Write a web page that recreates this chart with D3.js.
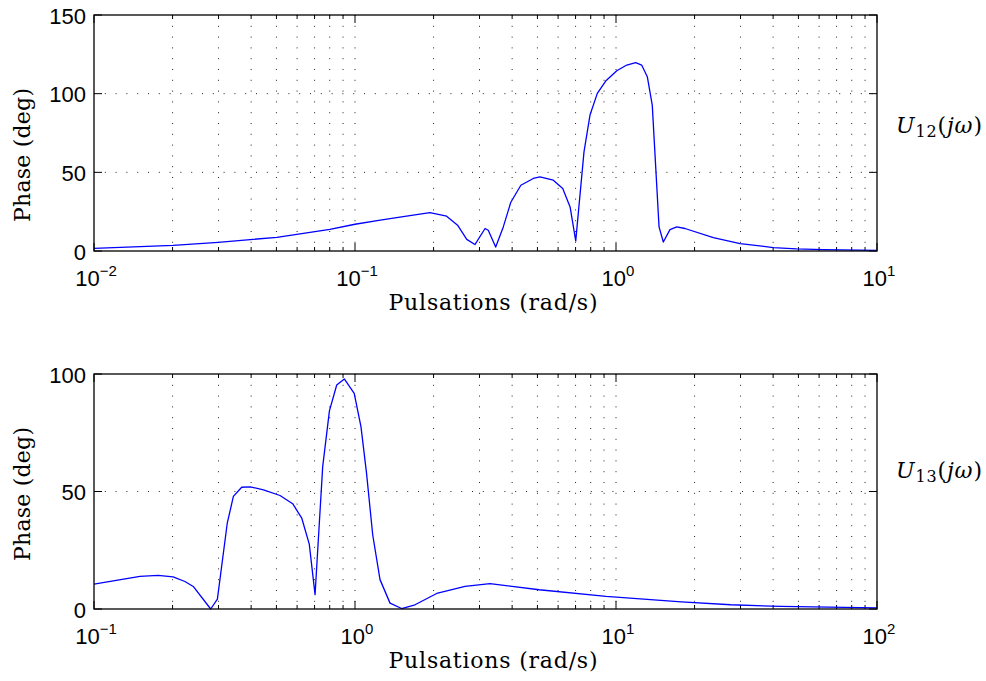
<!DOCTYPE html>
<html lang="en">
<head>
  <meta charset="UTF-8" />
  <title>Phase of U12 and U13</title>
  <script src="https://d3js.org/d3.v7.min.js"></script>
  <style>
    body {
      margin: 0;
      background: #fff;
    }
    svg {
      display: block;
    }
    .tick-label {
      font-family: "Liberation Sans", Arial, sans-serif;
      font-size: 22px;
      fill: #000;
    }
    .axis-title {
      font-family: "DejaVu Serif", serif;
      font-size: 22px;
      fill: #000;
    }
  </style>
</head>
<body>
<svg width="986" height="681"></svg>

<script>
  // U12 phase (top panel)
  const omega12 = [0.01, 0.0201, 0.0299, 0.0502, 0.0801, 0.1, 0.125, 0.1486, 0.1936, 0.2244, 0.2472, 0.268, 0.288, 0.315, 0.324,
    0.346, 0.370, 0.395, 0.432, 0.482, 0.511, 0.575, 0.625, 0.667, 0.701, 0.754, 0.795, 0.848, 0.913, 1.007,
    1.10, 1.19, 1.254, 1.318, 1.377, 1.462, 1.518, 1.61, 1.709, 1.838, 2.36, 2.99, 4.0, 4.92, 6.21, 10];
  const phase12 = [1.7, 3.6, 5.5, 8.7, 13.8, 17.0, 19.6, 21.5, 24.4, 22.1, 16.4, 7.4, 4.1, 14.3, 13.2,
    2.5, 15.3, 30.8, 41.8, 46.1, 47.1, 45.0, 39.7, 28.0, 6.4, 63.0, 86.4, 100.2, 108.0, 114.6,
    118.2, 119.7, 118.2, 110.8, 92.7, 15.3, 5.7, 13.6, 15.3, 14.3, 8.5, 4.7, 2.2, 1.3, 0.9, 0.4];

  // U13 phase (bottom panel)
  const omega13 = [0.1, 0.150, 0.176, 0.201, 0.223, 0.240, 0.280, 0.297, 0.324, 0.342, 0.368, 0.396, 0.446, 0.516, 0.577,
    0.625, 0.668, 0.703, 0.752, 0.798, 0.851, 0.910, 0.993, 1.054, 1.107, 1.169, 1.247, 1.362, 1.509, 1.698,
    2.056, 2.64, 3.29, 5.08, 9.16, 17.8, 27.5, 42.8, 100];
  const phase13 = [10.6, 13.9, 14.3, 13.7, 11.7, 9.6, 0, 4.2, 36.5, 47.9, 51.8, 52.0, 50.7, 48.3, 44.8,
    38.7, 27.6, 6.1, 60.6, 84.3, 95.3, 97.9, 91.8, 77.6, 57.8, 31.6, 12.5, 2.5, 0.2, 1.8,
    6.6, 9.6, 10.8, 8.2, 5.4, 3.0, 1.8, 1.1, 0.5];

  // tick labels
  const xExp12 = [-2, -1, 0, 1];
  const yTicks12 = [0, 50, 100, 150];
  const xExp13 = [-1, 0, 1, 2];
  const yTicks13 = [0, 50, 100];

  const xTitle = "Pulsations (rad/s)";
  const yTitle = "Phase (deg)";

  const svg = d3.select("svg");
  const left = 94, right = 877;

  function drawPanel(p) {
    const g = svg.append("g");
    const x = d3.scaleLog().domain([Math.pow(10, p.xExp[0]), Math.pow(10, p.xExp[p.xExp.length - 1])]).range([left, right]);
    const y = d3.scaleLinear().domain([0, p.yTicks[p.yTicks.length - 1]]).range([p.bottom, p.top]);

    // minor x values (2..9 per decade)
    const minor = [];
    for (let e = p.xExp[0]; e < p.xExp[p.xExp.length - 1]; e++) {
      for (let k = 2; k <= 9; k++) minor.push(k * Math.pow(10, e));
    }
    const majors = p.xExp.map(e => Math.pow(10, e));

    // dotted grid
    g.selectAll(".vgrid")
      .data(minor.concat(majors.slice(1, -1)))
      .enter().append("line")
      .attr("x1", d => x(d)).attr("x2", d => x(d))
      .attr("y1", p.top).attr("y2", p.bottom)
      .attr("stroke", "#222").attr("stroke-width", 1)
      .attr("stroke-dasharray", "1,9.8");
    g.selectAll(".hgrid")
      .data(p.yTicks.slice(1, -1))
      .enter().append("line")
      .attr("x1", left).attr("x2", right)
      .attr("y1", d => y(d)).attr("y2", d => y(d))
      .attr("stroke", "#222").attr("stroke-width", 1)
      .attr("stroke-dasharray", "1,9.8");

    // ticks inside the box on all four sides
    const tick = (v, len) => [
      [x(v), p.bottom, x(v), p.bottom - len],
      [x(v), p.top, x(v), p.top + len]
    ];
    const segs = [];
    minor.forEach(v => segs.push(...tick(v, 4)));
    majors.forEach(v => segs.push(...tick(v, 8)));
    p.yTicks.forEach(v => {
      segs.push([left, y(v), left + 8, y(v)]);
      segs.push([right, y(v), right - 8, y(v)]);
    });
    g.selectAll(".tk")
      .data(segs)
      .enter().append("line")
      .attr("x1", d => d[0]).attr("y1", d => d[1])
      .attr("x2", d => d[2]).attr("y2", d => d[3])
      .attr("stroke", "#000").attr("stroke-width", 1);

    // curve
    const pts = p.omega.map((w, i) => [w, p.phase[i]]);
    g.append("path")
      .datum(pts)
      .attr("fill", "none")
      .attr("stroke", "#0000ff")
      .attr("stroke-width", 1.3)
      .attr("stroke-linejoin", "round")
      .attr("d", d3.line().x(d => x(d[0])).y(d => y(d[1])));

    // box
    g.append("rect")
      .attr("x", left).attr("y", p.top)
      .attr("width", right - left).attr("height", p.bottom - p.top)
      .attr("fill", "none").attr("stroke", "#000").attr("stroke-width", 1.3);

    // y tick labels
    g.selectAll(".ylab")
      .data(p.yTicks)
      .enter().append("text")
      .attr("class", "tick-label")
      .attr("x", 86).attr("y", d => y(d))
      .attr("dy", "0.4em")
      .attr("text-anchor", "end")
      .text(d => d);

    // x tick labels 10^e
    p.xExp.forEach(e => {
      const t = g.append("text")
        .attr("class", "tick-label")
        .attr("x", x(Math.pow(10, e)) + 2)
        .attr("y", p.bottom + 35)
        .attr("text-anchor", "middle");
      t.append("tspan").text("10");
      t.append("tspan").attr("dy", -10).attr("font-size", "15px")
        .text(e < 0 ? "\u2212" + (-e) : e);
    });

    // axis titles
    g.append("text")
      .attr("class", "axis-title")
      .attr("x", 493).attr("y", p.bottom + 59)
      .attr("text-anchor", "middle")
      .attr("textLength", 209).attr("lengthAdjust", "spacing")
      .text(xTitle);
    g.append("text")
      .attr("class", "axis-title")
      .attr("transform", `translate(30,${p.yTitleC}) rotate(-90)`)
      .attr("text-anchor", "middle")
      .attr("textLength", 134).attr("lengthAdjust", "spacing")
      .text(yTitle);

    // series name on the right
    const lab = g.append("text")
      .attr("class", "axis-title")
      .attr("x", 896).attr("y", p.nameY)
      .attr("textLength", 86).attr("lengthAdjust", "spacing")
      .style("font-size", "22px");
    lab.append("tspan").style("font-style", "italic").text("U");
    lab.append("tspan").attr("dy", 4).style("font-size", "16px").text(p.sub);
    lab.append("tspan").attr("dy", -4).text("(");
    lab.append("tspan").style("font-style", "italic").text("j\u03c9");
    lab.append("tspan").text(")");
  }

  drawPanel({ omega: omega12, phase: phase12, xExp: xExp12, yTicks: yTicks12,
    top: 15, bottom: 251, yTitleC: 155, nameY: 133, sub: "12" });
  drawPanel({ omega: omega13, phase: phase13, xExp: xExp13, yTicks: yTicks13,
    top: 374, bottom: 609, yTitleC: 494, nameY: 478, sub: "13" });
</script>
</body>
</html>
